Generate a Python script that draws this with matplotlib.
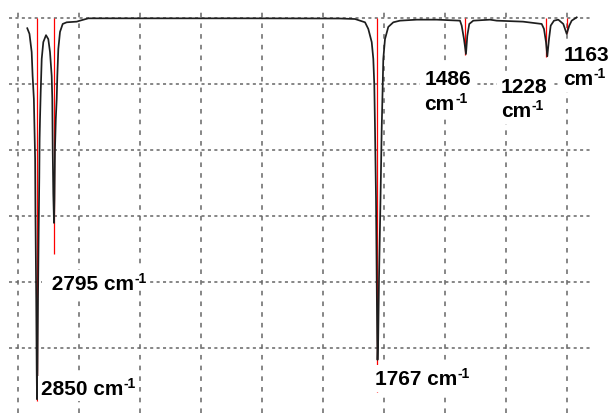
import numpy as np
import matplotlib
matplotlib.use('Agg')
import matplotlib.pyplot as plt

# ---------------- data ----------------
# measured spectrum (wavenumber in cm-1, transmittance-like %)
wavenumber = [2881, 2874, 2867, 2864, 2860, 2856, 2855, 2852.5, 2851, 2850,
              2848.4, 2846.8, 2844.6, 2842.7, 2841.7, 2840.4, 2838.2, 2835.0, 2829.9, 2821.3,
              2814.0, 2808.6, 2803.2, 2801.3, 2800.0, 2798.1, 2795.8, 2794.3, 2792.7, 2790.1,
              2787.2, 2785.3, 2782.1, 2776.7, 2768.1, 2755.4, 2723.5, 2713.0, 2686.6, 2490,
              2171, 1885, 1837, 1821, 1805, 1794.6, 1783.7, 1778.6, 1775.4, 1773.2,
              1770.0, 1767.8, 1766.2, 1765.2, 1763.0, 1760.5, 1755.7, 1751.9, 1748.7, 1746.8,
              1741.4, 1730.9, 1714.9, 1693.6, 1640.4, 1576.7, 1502.5, 1497.1, 1489.7, 1483.4,
              1479.2, 1472.9, 1460.1, 1406.9, 1385.5, 1301.8, 1242.2, 1234.9, 1228.5, 1224.3,
              1218.9, 1213.5, 1203.0, 1189.3, 1173.4, 1162.5, 1154.3, 1146.6, 1130.6]
transmittance = [96.9, 95.2, 89.7, 82.5, 75.5, 57.3, 41.2, 14.8, -6.4, -15.5,
                 -6.4, 14.8, 36.1, 51.8, 63.3, 69.4, 77.6, 87.6, 92.7, 94.8,
                 93.6, 89.7, 82.4, 75.5, 60.3, 46.7, 37.9, 45.2, 60.3, 69.4,
                 75.5, 82.4, 90.6, 95.8, 98.2, 98.7, 98.9, 99.2, 99.9, 99.9,
                 99.9, 99.85, 99.7, 99.2, 98.7, 96.7, 92.7, 87.6, 79.5, 66.4,
                 45.2, 20.9, 2.7, -3.6, 2.7, 20.9, 45.2, 66.4, 79.5, 87.6,
                 93.6, 97.3, 98.7, 99.2, 99.5, 99.5, 99.2, 97.7, 93.6, 89.1,
                 94.6, 98.2, 99.2, 99.5, 99.2, 98.9, 98.2, 96.7, 92.7, 88.4,
                 93.6, 97.7, 99.2, 99.5, 98.2, 95.2, 97.7, 99.2, 100.2]

# calculated stick spectrum
peak_wn = [2850, 2795, 1767, 1486, 1228, 1163]
peak_tip = [-16.1, 28.5, -13.3, 88.8, 88.2, 95.5]
stick_base = 100

# ---------------- layout (label anchors: left x, first baseline, second baseline) ----------------
label_pos = [(2837.3, -13.9, None, 2.0, ''),
             (2821.6, 17.9, None, 2.5, ' '),
             (1773.2, -10.9, None, 2.5, ''),
             (1615.5, 80.0, 72.4, 3.0, ''),
             (1371.8, 77.5, 70.3, 3.0, ''),
             (1173.4, 87.4, 80.0, 3.0, '')]

x_grid = np.arange(2910.5, 1100, -194.2)
y_grid = [100, 80, 60, 40, 20, 0]

W, H = 611, 414
fig = plt.figure(figsize=(W / 100, H / 100), dpi=100)
ax = fig.add_axes([9 / W, 0, 582 / W, 404 / H])
ax.set_xlim(2939.2, 1085.1)
ax.set_ylim(-19.7, 102.73)

for s in ax.spines.values():
    s.set_visible(False)
ax.set_xticks(x_grid)
ax.set_yticks(y_grid)
ax.tick_params(length=0, labelbottom=False, labelleft=False)
ax.set_axisbelow(True)
ax.xaxis.grid(True, color='#666666', lw=1.1, linestyle=(0, (3.0, 4.0)))
ax.yaxis.grid(True, color='#666666', lw=1.1, linestyle=(0, (2.0, 2.2)))

ax.vlines(peak_wn, stick_base, peak_tip, colors='#ff0000', lw=0.9, zorder=2.2)
ax.plot(wavenumber, transmittance, color='#1e1e1e', lw=1.25, zorder=2.5)

font = dict(family='Liberation Sans', weight='bold', color='black')
for wn, (lx, b1, b2, pad, lead) in zip(peak_wn, label_pos):
    box = dict(facecolor='white', edgecolor='none', pad=pad)
    if b2 is None:
        t_cm = ax.text(lx, b1, f'{lead}{wn} cm', fontsize=15, ha='left', va='baseline',
                       bbox=box, zorder=4, **font)
    else:
        ax.text(lx, b1, f'{wn}', fontsize=15, ha='left', va='baseline',
                bbox=box, zorder=4, **font)
        t_cm = ax.text(lx, b2, 'cm', fontsize=15, ha='left', va='baseline',
                       bbox=box, zorder=4, **font)
    ax.annotate('-1', xy=(1, 1), xycoords=t_cm, xytext=(0.3, 2.2),
                textcoords='offset points', ha='left', va='top', fontsize=10,
                bbox=dict(facecolor='white', edgecolor='none', pad=1.0),
                zorder=4.1, **font)

fig.savefig('out.png', dpi=100, facecolor='white')
